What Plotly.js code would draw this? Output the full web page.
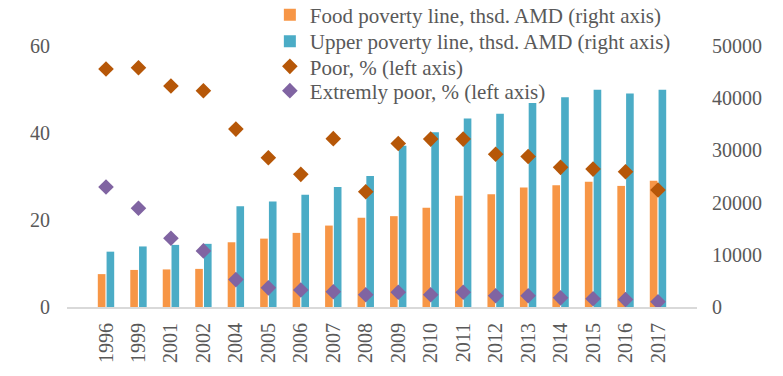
<!DOCTYPE html>
<html>
<head>
<meta charset="utf-8">
<script src="https://cdn.plot.ly/plotly-3.0.1.min.js"></script>
<style>html,body{margin:0;padding:0;background:#fff}#chart{width:783px;height:376px}</style>
</head>
<body>
<div id="chart"></div>
<script>
const years = ["1996","1999","2001","2002","2004","2005","2006","2007","2008","2009","2010","2011","2012","2013","2014","2015","2016","2017"];
const foodLine = [6300,7100,7200,7300,12400,13100,14200,15600,17100,17400,19000,21300,21600,22900,23300,24000,23200,24200];
const upperLine = [10600,11600,11900,12100,19300,20200,21500,23000,25100,30900,33500,36100,37000,39100,40200,41600,40900,41600];
const poor = [54.7,55.0,50.8,49.7,40.9,34.3,30.5,38.7,26.5,37.6,38.6,38.6,35.1,34.6,32.1,31.7,31.1,26.9];
const extremelyPoor = [27.6,22.7,15.8,12.9,6.3,4.4,3.9,3.5,2.8,3.4,2.8,3.4,2.6,2.6,2.1,1.9,1.7,1.2];
const seriesNames = ["Food poverty line, thsd. AMD (right axis)","Upper poverty line, thsd. AMD (right axis)","Poor, % (left axis)","Extremly poor, % (left axis)"];

const txt = '#595959';
const fontFam = 'Liberation Serif, Times New Roman, serif';

const data = [
  {type:'bar', name:seriesNames[0], x:years, y:foodLine, marker:{color:'#F79646'}, yaxis:'y', legend:'legend'},
  {type:'bar', name:seriesNames[1], x:years, y:upperLine, marker:{color:'#4BACC6'}, yaxis:'y', legend:'legend2'},
  {type:'scatter', mode:'markers', name:seriesNames[2], x:years, y:poor, yaxis:'y2', legend:'legend3',
   marker:{symbol:'diamond', size:12, color:'#B65708'}},
  {type:'scatter', mode:'markers', name:seriesNames[3], x:years, y:extremelyPoor, yaxis:'y2', legend:'legend4',
   marker:{symbol:'diamond', size:12, color:'#8064A2'}}
];

function leg(y){
  return {x:0.322, y:y, xanchor:'left', yanchor:'middle', bgcolor:'rgba(0,0,0,0)',
          font:{family:fontFam, size:21, color:txt}};
}

const layout = {
  width:783, height:376,
  margin:{l:67, r:86, t:46, b:69, autoexpand:false},
  paper_bgcolor:'#fff', plot_bgcolor:'#fff',
  font:{family:fontFam, size:20, color:txt},
  barmode:'group', bargap:0.46, bargroupgap:0.13,
  showlegend:true,
  legend:leg(1.1188), legend2:leg(1.0172), legend3:leg(0.9207), legend4:leg(0.8276),
  xaxis:{type:'category', tickangle:-90, showgrid:false, showline:true, linecolor:'#D9D9D9', linewidth:2,
         ticks:'', zeroline:false, tickfont:{family:fontFam, size:20, color:txt}, ticklabelstandoff:6},
  yaxis:{side:'right', range:[0,50000], tickvals:[0,10000,20000,30000,40000,50000], tickformat:'d', showgrid:false,
         zeroline:false, showline:false, ticks:'', tickfont:{family:fontFam, size:20, color:txt}, ticklabelstandoff:14},
  yaxis2:{overlaying:'y', side:'left', range:[0,60], tickvals:[0,20,40,60], showgrid:false,
          zeroline:false, showline:false, ticks:'', tickfont:{family:fontFam, size:20, color:txt}, ticklabelstandoff:16}
};

Plotly.newPlot('chart', data, layout, {displayModeBar:false, staticPlot:true});
</script>
</body>
</html>
